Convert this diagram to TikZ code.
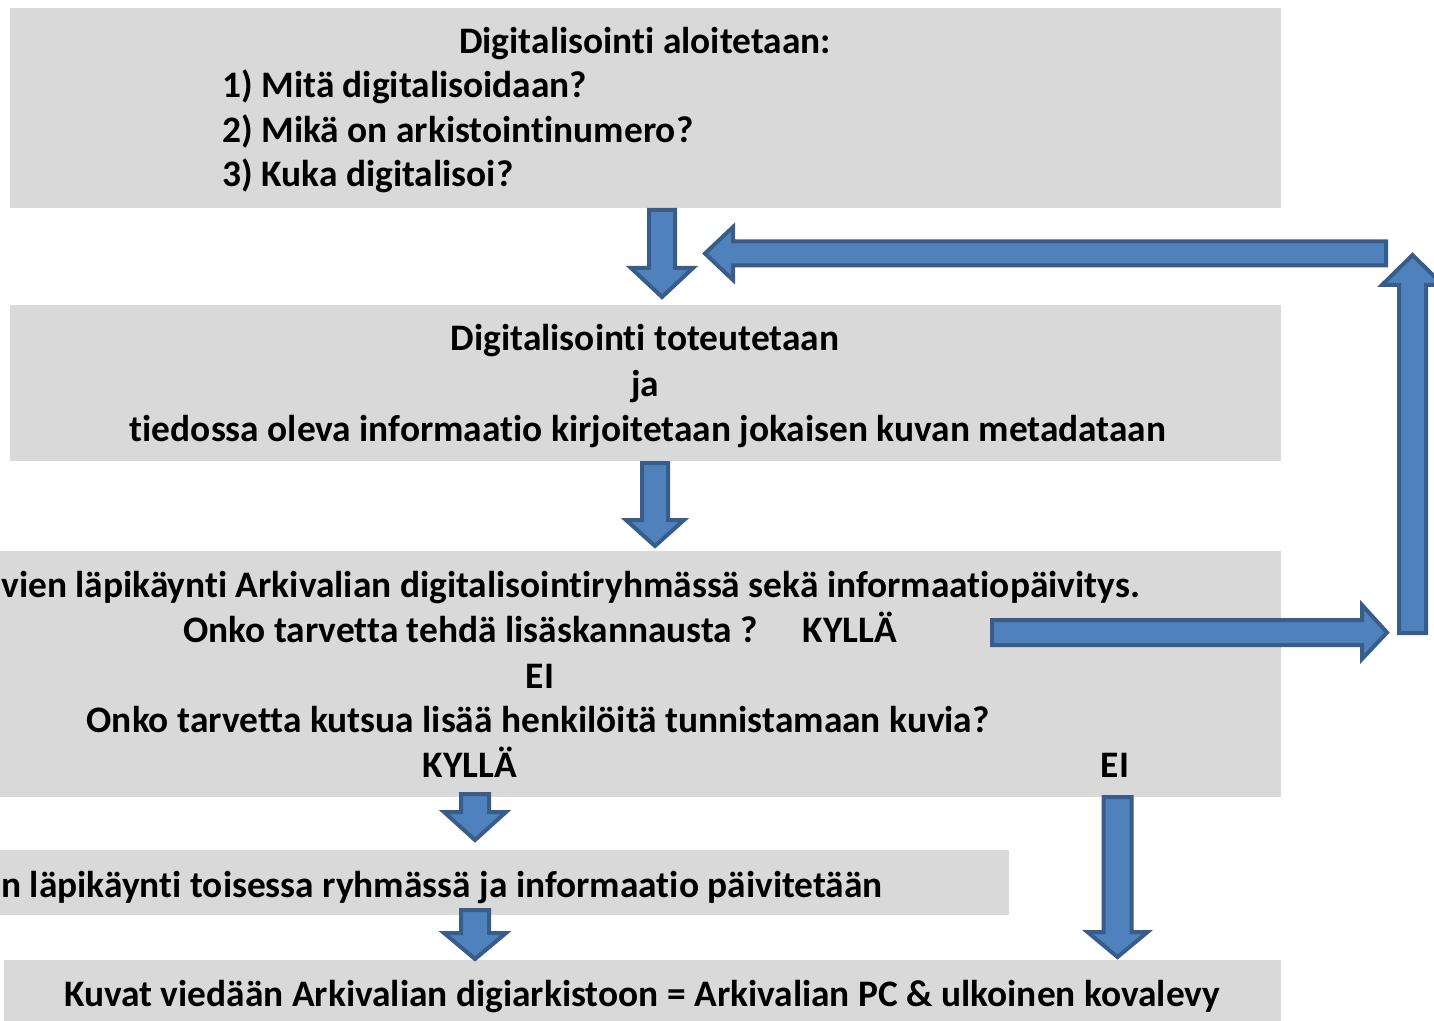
\documentclass[tikz,border=0pt]{standalone}
\usepackage{fontspec}
\setmainfont{Carlito}[Ligatures=NoCommon]
\usetikzlibrary{fit}
\definecolor{boxgray}{HTML}{D9D9D9}
\definecolor{arrowfill}{HTML}{4F81BD}
\definecolor{arrowline}{HTML}{385D8A}
\newcommand\dnarrow[6]{% cx, top, headbase, tip, shafthalf, headhalf
  \path[barrow] ({#1-#5},#2) -- ({#1+#5},#2) -- ({#1+#5},#3) -- ({#1+#6},#3) -- (#1,#4)
    -- ({#1-#6},#3) -- ({#1-#5},#3) -- cycle;}
\begin{document}
\begin{tikzpicture}[x=0.5pt,y=-0.5pt,
  box/.style={fill=boxgray, draw=none, inner sep=0pt},
  txt/.style={font=\bfseries\fontsize{18.7}{22}\selectfont, inner sep=0pt},
  barrow/.style={fill=arrowfill, draw=arrowline, line width=2pt, line join=miter}]
\useasboundingbox (0,0) rectangle (1434,1021);
\clip (0,0) rectangle (1434,1021);
% boxes
\node[box, fit={(10,8) (1281,208)}] (b1) {};
\node[box, fit={(10,305) (1281,461)}] (b2) {};
\node[box, fit={(0,551) (1281,797)}] (b3) {};
\node[box, fit={(0,850) (1009,915)}] (b4) {};
\node[box, fit={(4,960) (1281,1021)}] (b5) {};
% box 1 text
\node[txt, anchor=base] (t11) at (645,54) {Digitalisointi aloitetaan:};
\node[txt, anchor=base west] (t12) at (222,98) {1) Mitä digitalisoidaan?};
\node[txt, anchor=base west] (t13) at (222,143) {2) Mikä on arkistointinumero?};
\node[txt, anchor=base west] (t14) at (222,187) {3) Kuka digitalisoi?};
% box 2 text
\node[txt, anchor=base] (t21) at (645,351) {Digitalisointi toteutetaan};
\node[txt, anchor=base] (t22) at (645,396) {ja};
\node[txt, anchor=base] (t23) at (648,441) {tiedossa oleva informaatio kirjoitetaan jokaisen kuvan metadataan};
% box 3 text
\node[txt, anchor=base west] (t31) at (1,597) {vien läpikäynti Arkivalian digitalisointiryhmässä sekä informaatiopäivitys.};
\node[txt, anchor=base west] (t32) at (183,642) {Onko tarvetta tehdä lisäskannausta ?};
\node[txt, anchor=base] (t33) at (850,642) {KYLLÄ};
\node[txt, anchor=base] (t34) at (540,688) {EI};
\node[txt, anchor=base] (t35) at (538,732) {Onko tarvetta kutsua lisää henkilöitä tunnistamaan kuvia?};
\node[txt, anchor=base] (t36) at (470,777) {KYLLÄ};
\node[txt, anchor=base] (t37) at (1115,777) {EI};
% box 4 text
\node[txt, anchor=base west] (t41) at (1,897) {n läpikäynti toisessa ryhmässä ja informaatio päivitetään};
% box 5 text
\node[txt, anchor=base] (t51) at (642,1006) {Kuvat viedään Arkivalian digiarkistoon = Arkivalian PC \& ulkoinen kovalevy};
% block arrows
\dnarrow{662}{210}{268}{297}{13}{31}
\dnarrow{655}{463}{520}{546}{13}{29}
\dnarrow{475}{794}{812}{840}{14}{31}
\dnarrow{475}{910}{933}{959}{14}{31}
\dnarrow{1117.5}{797}{932}{957}{14}{30}
% left arrow (loop back)
\path[barrow] (1386,241.5) -- (1386,265.5) -- (733,265.5) -- (733,280) -- (705,253.5)
  -- (733,227) -- (733,241.5) -- cycle;
% up arrow
\path[barrow] (1399,633) -- (1426,633) -- (1426,285) -- (1443,285) -- (1412.5,255)
  -- (1382,285) -- (1399,285) -- cycle;
% right arrow
\path[barrow] (992,620) -- (1362,620) -- (1362,605) -- (1387,632.5) -- (1362,659)
  -- (1362,645) -- (992,645) -- cycle;
\end{tikzpicture}
\end{document}
